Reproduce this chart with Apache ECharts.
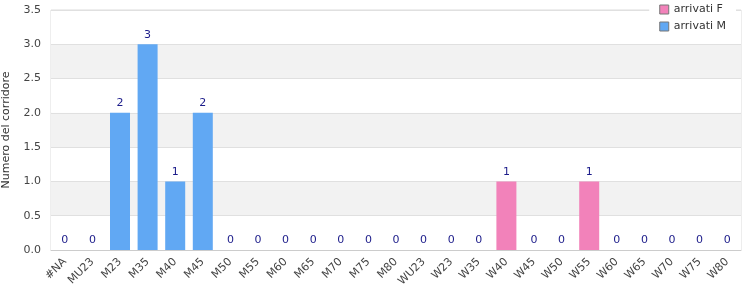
<!DOCTYPE html>
<html><head><meta charset="utf-8">
<script src="https://cdn.jsdelivr.net/npm/echarts@6/dist/echarts.min.js"></script>
<style>html,body{margin:0;padding:0;background:#fff}#c{width:750px;height:300px}</style>
</head><body><div id="c"></div>
<script>
const categories = ['#NA','MU23','M23','M35','M40','M45','M50','M55','M60','M65','M70','M75','M80','WU23','W23','W35','W40','W45','W50','W55','W60','W65','W70','W75','W80'];
const arrivatiM = [0,0,2,3,1,2,0,0,0,0,0,0,0,'-','-','-','-','-','-','-','-','-','-','-','-'];
const arrivatiF = ['-','-','-','-','-','-','-','-','-','-','-','-','-',0,0,0,1,0,0,1,0,0,0,0,0];
const yTicks = {min:0, max:3.5, interval:0.5};

const font = 'DejaVu Sans';
const labelStyle = {show:true, position:'top', color:'#1c1c8a', fontSize:11, fontFamily:font, distance:4};
const chart = echarts.init(document.getElementById('c'), null, {renderer:'canvas'});
chart.setOption({
  animation:false,
  textStyle:{fontFamily:font},
  grid:{left:51, right:9, top:10, bottom:50, containLabel:false, outerBoundsMode:'none', show:true, borderColor:'#dcdcdc', borderWidth:1, backgroundColor:'transparent'},
  legend:{
    orient:'vertical', right:14, top:1, data:['arrivati F','arrivati M'],
    itemWidth:9, itemHeight:9, itemGap:6, icon:'rect', backgroundColor:'#fff', padding:[3,10,3,10],
    textStyle:{fontSize:11, color:'#333', fontFamily:font}, itemStyle:{borderColor:'#777', borderWidth:1}
  },
  xAxis:{
    type:'category', data:categories,
    axisLine:{lineStyle:{color:'#ccc'}}, axisTick:{show:false},
    axisLabel:{rotate:45, interval:0, color:'#444', fontSize:11, fontFamily:font, margin:10}
  },
  yAxis:{
    type:'value', min:yTicks.min, max:yTicks.max, interval:yTicks.interval,
    name:'Numero del corridore', nameLocation:'middle', nameGap:39,
    nameTextStyle:{fontSize:11, color:'#333', fontFamily:font},
    axisLabel:{formatter:v=>v.toFixed(1), color:'#444', fontSize:11, fontFamily:font, margin:10},
    axisLine:{show:false}, axisTick:{show:false},
    splitLine:{lineStyle:{color:'#e0e0e0'}},
    splitArea:{show:true, areaStyle:{color:['#ffffff','#f2f2f2']}}
  },
  series:[
    {name:'arrivati F', type:'bar', data:arrivatiF, barWidth:20, barGap:'-100%', itemStyle:{color:'#f282ba'}, label:labelStyle},
    {name:'arrivati M', type:'bar', data:arrivatiM, barWidth:20, barGap:'-100%', itemStyle:{color:'#61a8f3'}, label:labelStyle}
  ]
});
</script></body></html>
